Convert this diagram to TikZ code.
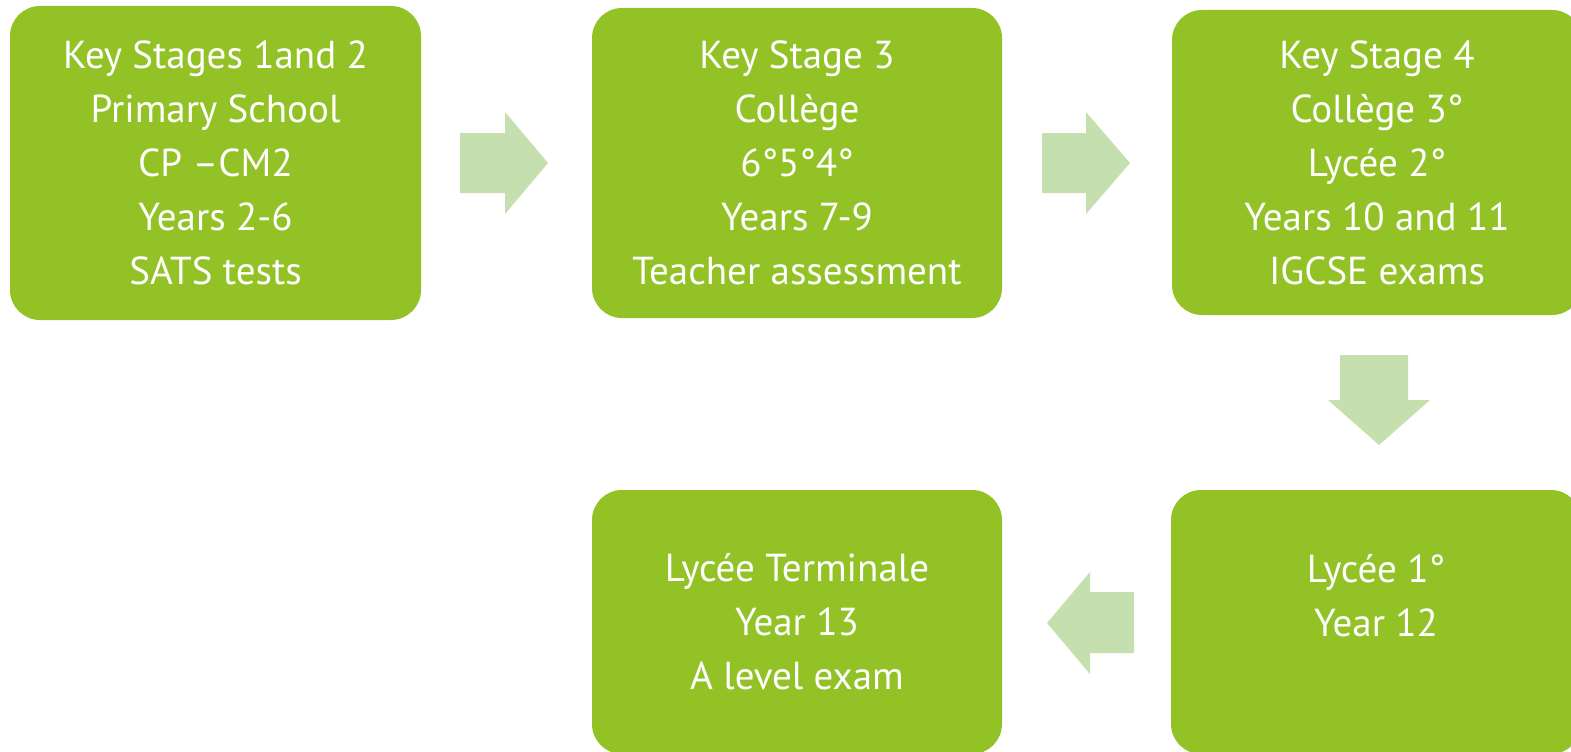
\documentclass[tikz,border=0pt]{standalone}
\usepackage{fontspec}
\setmainfont{PT Sans}
\definecolor{boxgreen}{RGB}{147,194,38}
\definecolor{arrowgreen}{RGB}{198,223,174}
\tikzset{
  stagebox/.style={fill=boxgreen, rounded corners=30pt, text=white, align=center,
    font=\fontsize{39}{54}\selectfont, inner sep=0pt},
  blockarrow/.style={fill=arrowgreen}
}
\begin{document}
\begin{tikzpicture}[x=1pt,y=-1pt]
\useasboundingbox (0,0) rectangle (1571,752);
\clip (0,0) rectangle (1571,752);
\node[stagebox, minimum width=411pt, minimum height=314pt] (b1) at (215.5,163)
  {Key Stages 1and 2\\Primary School\\CP –CM2\\Years 2-6\\SATS tests};
\node[stagebox, minimum width=410pt, minimum height=310pt] (b2) at (797,163)
  {Key Stage 3\\Collège\\6°5°4°\\Years 7-9\\Teacher assessment};
\node[stagebox, minimum width=410pt, minimum height=305pt] (b3) at (1377,162.5)
  {Key Stage 4\\Collège 3°\\Lycée 2°\\Years 10 and 11\\IGCSE exams};
\node[stagebox, minimum width=410pt, minimum height=264pt] (b4) at (1376,622)
  {Lycée 1°\\Year 12\\\mbox{}};
\node[stagebox, minimum width=410pt, minimum height=264pt] (b5) at (797,622)
  {Lycée Terminale\\Year 13\\A level exam};
% block arrows
\fill[blockarrow] (460,133) -- (505,133) -- (505,112) -- (548,163) -- (505,214) -- (505,193) -- (460,193) -- cycle;
\fill[blockarrow] (1042,133) -- (1086,133) -- (1086,112) -- (1130,163) -- (1086,214) -- (1086,193) -- (1042,193) -- cycle;
\fill[blockarrow] (1340,355) -- (1340,400) -- (1328,400) -- (1379,445) -- (1430,400) -- (1408,400) -- (1408,355) -- cycle;
\fill[blockarrow] (1134,592) -- (1090,592) -- (1090,572) -- (1047,623) -- (1090,674) -- (1090,653) -- (1134,653) -- cycle;
\end{tikzpicture}
\end{document}
